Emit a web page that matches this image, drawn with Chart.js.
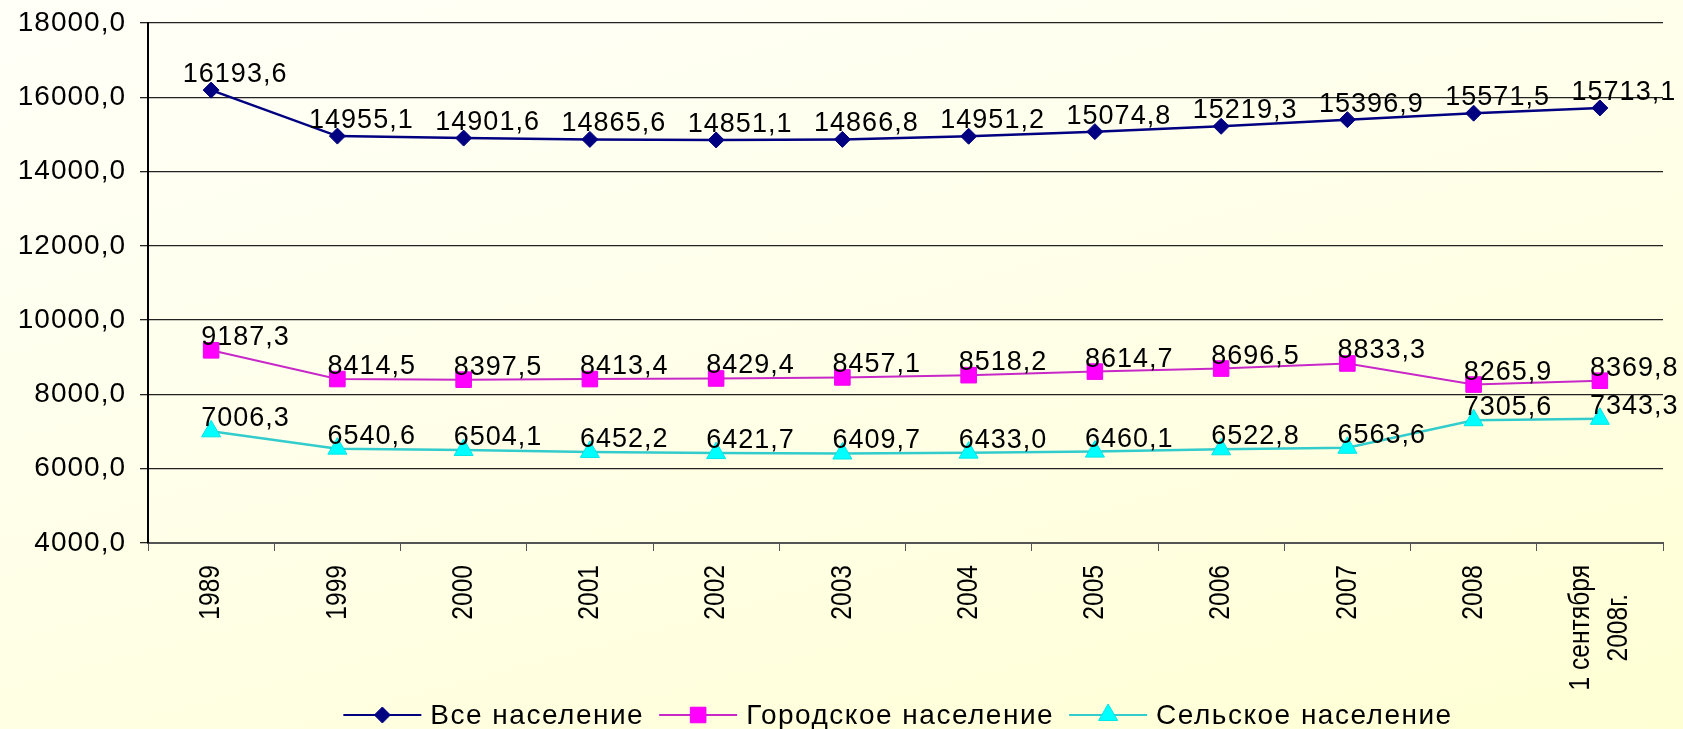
<!DOCTYPE html>
<html>
<head>
<meta charset="utf-8">
<script src="https://cdn.jsdelivr.net/npm/chart.js@4.4.1/dist/chart.umd.min.js"></script>
<style>
  html, body { margin: 0; padding: 0; }
  body {
    width: 1683px; height: 729px; overflow: hidden;
    background: linear-gradient(165deg, #FFFFF8 0%, #FFFFEA 45%, #FFFFD4 100%);
  }
  #wrap { position: relative; width: 1683px; height: 729px; }
</style>
</head>
<body>
<div id="wrap"><canvas id="myChart"></canvas></div>
<script>
// data
const categories = ['1989', '1999', '2000', '2001', '2002', '2003', '2004', '2005', '2006', '2007', '2008', ['1 сентября', '2008г.']];
const seriesNames = ['Все население', 'Городское население', 'Сельское население'];
const allPopulation = [16193.6, 14955.1, 14901.6, 14865.6, 14851.1, 14866.8, 14951.2, 15074.8, 15219.3, 15396.9, 15571.5, 15713.1];
const urbanPopulation = [9187.3, 8414.5, 8397.5, 8413.4, 8429.4, 8457.1, 8518.2, 8614.7, 8696.5, 8833.3, 8265.9, 8369.8];
const ruralPopulation = [7006.3, 6540.6, 6504.1, 6452.2, 6421.7, 6409.7, 6433.0, 6460.1, 6522.8, 6563.6, 7305.6, 7343.3];
const yMin = 4000, yMax = 18000, yStep = 2000;

const fmt = v => v.toFixed(1).replace('.', ',');
const mainFont = "'Liberation Sans', Arial, sans-serif";

// data labels drawn next to every point
const pointLabels = {
  id: 'pointLabels',
  afterDatasetsDraw(chart) {
    const ctx = chart.ctx;
    ctx.save();
    ctx.font = '27px ' + mainFont;
    ctx.letterSpacing = '1px';
    ctx.fillStyle = '#000';
    ctx.textBaseline = 'alphabetic';
    chart.data.datasets.forEach((ds, i) => {
      const meta = chart.getDatasetMeta(i);
      meta.data.forEach((pt, j) => {
        const txt = fmt(ds.data[j]);
        if (i === 0) {
          ctx.textAlign = 'center';
          ctx.fillText(txt, pt.x + 24, pt.y - 8);
        } else {
          ctx.textAlign = 'left';
          ctx.fillText(txt, pt.x - 10, pt.y - 5);
        }
      });
    });
    ctx.restore();
  }
};

// rotated, condensed category labels under the x axis
const xLabels = {
  id: 'xLabels',
  afterDraw(chart) {
    const ctx = chart.ctx;
    const xs = chart.scales.x;
    const top = xs.top + 22;
    ctx.save();
    ctx.font = '30px ' + mainFont;
    ctx.letterSpacing = '0px';
    ctx.fillStyle = '#000';
    ctx.textBaseline = 'middle';
    ctx.textAlign = 'center';
    chart.data.labels.forEach((lab, i) => {
      const lines = Array.isArray(lab) ? lab : [lab];
      const w = Math.max(...lines.map(l => ctx.measureText(l).width));
      const x = xs.getPixelForValue(i);
      ctx.save();
      ctx.translate(x, top);
      ctx.rotate(-Math.PI / 2);
      ctx.scale(0.82, 1);
      lines.forEach((l, k) => {
        ctx.fillText(l, -w / 2, (k - (lines.length - 1) / 2) * 38);
      });
      ctx.restore();
    });
    ctx.restore();
  }
};

// excel-like legend: line with marker, then the name
const lineLegend = {
  id: 'lineLegend',
  afterDraw(chart) {
    const ctx = chart.ctx;
    ctx.save();
    ctx.font = '28px ' + mainFont;
    ctx.letterSpacing = '1.5px';
    const lineW = 78, gapText = 9, gapItem = 15;
    const items = chart.data.datasets.map(ds => ({ ds, w: ctx.measureText(ds.label).width }));
    const total = items.reduce((s, it) => s + lineW + gapText + it.w, 0) + gapItem * (items.length - 1);
    let x = 898 - total / 2;
    const y = 715;
    items.forEach(it => {
      const ds = it.ds;
      ctx.strokeStyle = ds.borderColor;
      ctx.lineWidth = 2;
      ctx.beginPath();
      ctx.moveTo(x, y);
      ctx.lineTo(x + lineW, y);
      ctx.stroke();
      ctx.fillStyle = ds.pointBackgroundColor;
      ctx.strokeStyle = ds.pointBorderColor;
      ctx.lineWidth = 1;
      Chart.helpers.drawPoint(ctx, {
        pointStyle: ds.pointStyle, radius: ds.pointRadius, borderWidth: 1, rotation: 0
      }, x + lineW / 2, y);
      x += lineW + gapText;
      ctx.fillStyle = '#000';
      ctx.textAlign = 'left';
      ctx.textBaseline = 'middle';
      ctx.fillText(ds.label, x, y + 1);
      x += it.w + gapItem;
    });
    ctx.restore();
  }
};

const ctx = document.getElementById('myChart').getContext('2d');
const myChart = new Chart(ctx, {
  type: 'line',
  data: {
    labels: categories,
    datasets: [{
      label: seriesNames[0],
      data: allPopulation,
      borderColor: '#000080',
      borderWidth: 2.5,
      pointStyle: 'rectRot',
      pointRadius: 8,
      pointBackgroundColor: '#000080',
      pointBorderColor: '#000080',
      pointBorderWidth: 1
    }, {
      label: seriesNames[1],
      data: urbanPopulation,
      borderColor: '#C828C8',
      borderWidth: 2,
      pointStyle: 'rect',
      pointRadius: 11,
      pointBackgroundColor: '#FF00FF',
      pointBorderColor: '#EE00EE',
      pointBorderWidth: 1
    }, {
      label: seriesNames[2],
      data: ruralPopulation,
      borderColor: '#33CCCC',
      borderWidth: 2.5,
      pointStyle: 'triangle',
      pointRadius: 11,
      pointBackgroundColor: '#00FFFF',
      pointBorderColor: '#00E5E5',
      pointBorderWidth: 1
    }]
  },
  options: {
    responsive: true,
    maintainAspectRatio: false,
    animation: false,
    layout: { padding: { top: 23, right: 20, left: 0, bottom: 0 } },
    plugins: {
      legend: { display: false },
      tooltip: { enabled: false }
    },
    scales: {
      x: {
        offset: true,
        grid: {
          offset: true,
          drawOnChartArea: false,
          drawTicks: true,
          tickLength: 8,
          color: '#555'
        },
        border: { color: '#555', width: 2 },
        ticks: { display: false },
        afterFit(scale) { scale.height = 186; }
      },
      y: {
        min: yMin,
        max: yMax,
        grid: {
          color: '#222',
          lineWidth: 1.3,
          tickLength: 8,
          drawTicks: true
        },
        border: { color: '#000', width: 2 },
        ticks: {
          stepSize: yStep,
          padding: 14,
          color: '#000',
          font: { family: mainFont, size: 28 },
          callback: v => fmt(v)
        },
        afterFit(scale) {
          scale.width = 148;
          scale.paddingTop = 0;
          scale.paddingBottom = 0;
        }
      }
    }
  },
  plugins: [pointLabels, xLabels, lineLegend, {
    id: 'spacing',
    beforeDraw(chart) { chart.ctx.letterSpacing = '1px'; }
  }]
});
</script>
</body>
</html>
